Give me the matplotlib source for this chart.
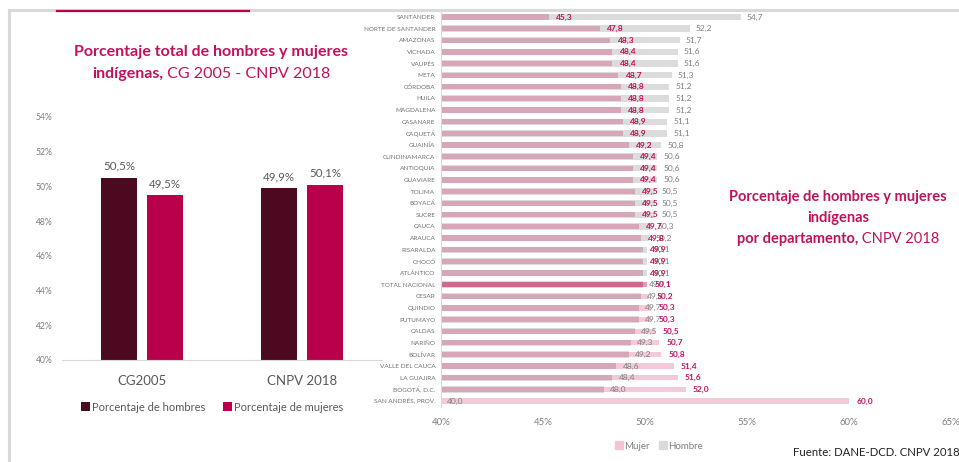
import matplotlib.pyplot as plt
from matplotlib.lines import Line2D
from matplotlib.patches import Patch

plt.rcParams['font.family'] = ['Lato', 'DejaVu Sans']

# left chart data
censos = ['CG2005', 'CNPV 2018']
pct_hombres = [50.5, 49.9]
pct_mujeres = [49.5, 50.1]
left_ticks = [40, 42, 44, 46, 48, 50, 52, 54]

# right chart data
departamentos = ['SANTANDER', 'NORTE DE SANTANDER', 'AMAZONAS', 'VICHADA', 'VAUPÉS', 'META',
                 'CÓRDOBA', 'HUILA', 'MAGDALENA', 'CASANARE', 'CAQUETÁ', 'GUAINÍA',
                 'CUNDINAMARCA', 'ANTIOQUIA', 'GUAVIARE', 'TOLIMA', 'BOYACÁ', 'SUCRE',
                 'CAUCA', 'ARAUCA', 'RISARALDA', 'CHOCÓ', 'ATLÁNTICO', 'TOTAL NACIONAL',
                 'CESAR', 'QUINDIO', 'PUTUMAYO', 'CALDAS', 'NARIÑO', 'BOLÍVAR',
                 'VALLE DEL CAUCA', 'LA GUAJIRA', 'BOGOTÁ, D.C.', 'SAN ANDRÉS, PROV.']
mujer = [45.3, 47.8, 48.3, 48.4, 48.4, 48.7, 48.8, 48.8, 48.8, 48.9, 48.9, 49.2,
         49.4, 49.4, 49.4, 49.5, 49.5, 49.5, 49.7, 49.8, 49.9, 49.9, 49.9, 50.1,
         50.2, 50.3, 50.3, 50.5, 50.7, 50.8, 51.4, 51.6, 52.0, 60.0]
hombre = [54.7, 52.2, 51.7, 51.6, 51.6, 51.3, 51.2, 51.2, 51.2, 51.1, 51.1, 50.8,
          50.6, 50.6, 50.6, 50.5, 50.5, 50.5, 50.3, 50.2, 50.1, 50.1, 50.1, 49.9,
          49.8, 49.7, 49.7, 49.5, 49.3, 49.2, 48.6, 48.4, 48.0, 40.0]
right_ticks = [40, 45, 50, 55, 60, 65]

W, H = 959, 462
c_hombres = '#4b0a20'
c_mujeres = '#b8004b'
c_title = '#c0125a'
c_text = '#595959'

fig = plt.figure(figsize=(W / 100, H / 100), dpi=100)


def fx(px):
    return px / W


def fy(py):
    return 1 - py / H


def two_part_line(cx, cy, bold_txt, normal_txt, size):
    # bold part + normal part, centered together on cx
    a = fig.text(0, fy(cy), bold_txt, ha='left', va='center', fontsize=size,
                 fontweight='bold', color=c_title)
    b = fig.text(0, fy(cy), ' ' + normal_txt, ha='left', va='center', fontsize=size,
                 color=c_title)
    r = fig.canvas.get_renderer()
    wa = a.get_window_extent(r).width
    wb = b.get_window_extent(r).width
    x0 = cx - (wa + wb) / 2
    a.set_x(fx(x0))
    b.set_x(fx(x0 + wa))


# frame lines
fig.add_artist(Line2D([fx(8.5), fx(8.5)], [fy(10), fy(462)], color='#d9d9d9', lw=2.2))
fig.add_artist(Line2D([fx(8.5), fx(959)], [fy(10), fy(10)], color='#d9d9d9', lw=2.2))
fig.add_artist(Line2D([fx(57), fx(249)], [fy(11), fy(11)], color='#b8004b', lw=1.6))

# ---- left chart ----
ax1 = fig.add_axes([fx(62), fy(360), fx(382) - fx(62), fy(117) - fy(360)])
x = range(len(censos))
off = 0.144
bw = 0.23
b1 = ax1.bar([i - off for i in x], pct_hombres, width=bw, color=c_hombres, label='Porcentaje de hombres')
b2 = ax1.bar([i + off for i in x], pct_mujeres, width=bw, color=c_mujeres, label='Porcentaje de mujeres')
for bars, vals in ((b1, pct_hombres), (b2, pct_mujeres)):
    for b, v in zip(bars, vals):
        ax1.text(b.get_x() + b.get_width() / 2, v + 0.35, f'{v:.1f}%'.replace('.', ','),
                 ha='center', va='bottom', fontsize=8.3, color=c_text)
ax1.set_xlim(-0.5, 1.5)
ax1.set_ylim(40, 54)
ax1.set_yticks(left_ticks)
ax1.set_yticklabels([f'{t}%' for t in left_ticks])
ax1.set_xticks(list(x))
ax1.set_xticklabels(censos)
ax1.tick_params(axis='y', length=0, labelsize=6.2, labelcolor='#7f7f7f', pad=7)
ax1.tick_params(axis='x', length=0, labelsize=9.5, labelcolor=c_text, pad=11)
for s in ['top', 'right', 'left']:
    ax1.spines[s].set_visible(False)
ax1.spines['bottom'].set_color('#d9d9d9')
ax1.legend(loc='upper center', bbox_to_anchor=(0.47, -0.13), ncol=2, frameon=False,
           fontsize=8, handlelength=0.8, handleheight=0.8, handletextpad=0.2,
           columnspacing=1.6, labelcolor=c_text)

fig.text(fx(211), fy(52), 'Porcentaje total de hombres y mujeres', ha='center', va='center',
         fontsize=11.5, fontweight='bold', color=c_title)
two_part_line(211, 74, 'indígenas,', 'CG 2005 - CNPV 2018', 11.5)

# ---- right chart ----
ax2 = fig.add_axes([fx(441), fy(406.8), fx(951) - fx(441), fy(11.2) - fy(406.8)])
y = list(range(len(departamentos)))
base = 40
ambos = [min(m, h) for m, h in zip(mujer, hombre)]
total = ['TOTAL NACIONAL' == d for d in departamentos]
light = ['#e996b5' if t else '#f4cadb' for t in total]
dark = ['#d0678f' if t else '#d8a6b9' for t in total]
ax2.barh(y, [h - base for h in hombre], left=base, height=0.55, color='#dcdcdc', zorder=1)
ax2.barh(y, [m - base for m in mujer], left=base, height=0.45, color=light, zorder=2)
ax2.barh(y, [a - base for a in ambos], left=base, height=0.45, color=dark, zorder=2)
for i in y:
    ax2.text(mujer[i] + 0.35, i, f'{mujer[i]:.1f}'.replace('.', ','), ha='left', va='center',
             fontsize=6, fontweight='bold', color='#c0125a', zorder=4)
    ax2.text(hombre[i] + 0.3, i, f'{hombre[i]:.1f}'.replace('.', ','), ha='left', va='center',
             fontsize=6, color='#7f7f7f', zorder=3)
ax2.set_ylim(len(departamentos) - 0.5, -0.5)
ax2.set_xlim(40, 65)
ax2.set_yticks(y)
ax2.set_yticklabels(departamentos)
ax2.set_xticks(right_ticks)
ax2.set_xticklabels([f'{t}%' for t in right_ticks])
ax2.tick_params(axis='y', length=0, labelsize=4.6, labelcolor='#707070', pad=4)
ax2.tick_params(axis='x', length=0, labelsize=6.9, labelcolor='#7f7f7f', pad=8)
ax2.set_clip_on(False)
for s in ['top', 'right', 'bottom']:
    ax2.spines[s].set_visible(False)
ax2.spines['left'].set_color('#d9d9d9')
ax2.spines['left'].set_linewidth(0.8)

handles = [Patch(color='#f2c4d6', label='Mujer'), Patch(color='#dadada', label='Hombre')]
fig.legend(handles=handles, loc='center', bbox_to_anchor=(fx(659), fy(446)), ncol=2,
           frameon=False, fontsize=7, handlelength=0.8, handleheight=0.8,
           handletextpad=0.2, columnspacing=0.9, labelcolor='#7f7f7f')

fig.text(fx(793), fy(452), 'Fuente: DANE-DCD. CNPV 2018', ha='left', va='center',
         fontsize=8.2, color='#222222')

fig.text(fx(838), fy(197), 'Porcentaje de hombres y mujeres', ha='center', va='center',
         fontsize=10.5, fontweight='bold', color=c_title)
fig.text(fx(838), fy(218), 'indígenas', ha='center', va='center',
         fontsize=10.5, fontweight='bold', color=c_title)
two_part_line(838, 239, 'por departamento,', 'CNPV 2018', 10.5)

fig.savefig('out.png', dpi=100)
